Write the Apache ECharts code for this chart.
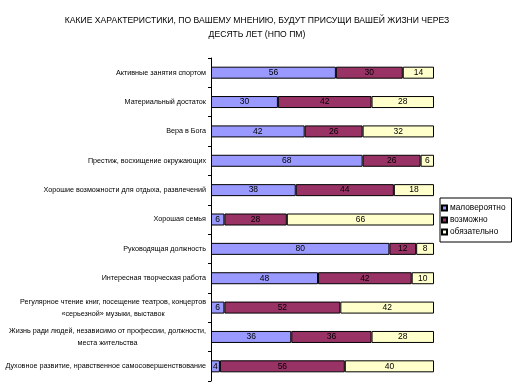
<!DOCTYPE html>
<html><head><meta charset="utf-8">
<script src="https://cdn.jsdelivr.net/npm/echarts@6/dist/echarts.min.js"></script>
<style>html,body{margin:0;padding:0;background:#fff}#c{width:514px;height:392px}</style>
</head><body><div id="c"></div>
<script>
const categories = [
  "Активные занятия спортом",
  "Материальный достаток",
  "Вера в Бога",
  "Престиж, восхищение окружающих",
  "Хорошие возможности для отдыха, развлечений",
  "Хорошая семья",
  "Руководящая должность",
  "Интересная творческая работа",
  "Регулярное чтение книг, посещение театров, концертов\n«серьезной» музыки, выставок",
  "Жизнь ради людей, независимо от профессии, должности,\nместа жительства",
  "Духовное развитие, нравственное самосовершенствование"
];
const seriesNames = ["маловероятно", "возможно", "обязательно"];
const unlikely = [56, 30, 42, 68, 38, 6, 80, 48, 6, 36, 4];
const possible = [30, 42, 26, 26, 44, 28, 12, 42, 52, 36, 56];
const certain  = [14, 28, 32, 6, 18, 66, 8, 10, 42, 28, 40];
const titleText = "КАКИЕ ХАРАКТЕРИСТИКИ, ПО ВАШЕМУ МНЕНИЮ, БУДУТ ПРИСУЩИ ВАШЕЙ ЖИЗНИ ЧЕРЕЗ\nДЕСЯТЬ ЛЕТ (НПО ПМ)";
const colors = ["#9999FF", "#993366", "#FFFFCC"];

const FONT = "'Liberation Sans', Arial, sans-serif";
const chart = echarts.init(document.getElementById('c'), null, {renderer: 'canvas'});
function mk(name, data, color) {
  return {
    name: name, type: 'bar', stack: 'a', data: data, barWidth: 12,
    itemStyle: {color: color, borderColor: '#000', borderWidth: 1},
    label: {show: true, position: 'inside', color: '#000', fontFamily: FONT, fontSize: 8.5},
    emphasis: {disabled: true}
  };
}
chart.setOption({
  animation: false,
  backgroundColor: '#fff',
  title: {
    text: titleText, left: 'center', top: 9,
    textStyle: {fontFamily: FONT, fontSize: 8.6, fontWeight: 'normal', color: '#000', lineHeight: 14}
  },
  legend: {
    orient: 'vertical', left: 440, top: 198,
    itemWidth: 5, itemHeight: 5, itemGap: 4, icon: 'rect',
    borderColor: '#000', borderWidth: 1, padding: [6, 6, 6, 1],
    textStyle: {fontFamily: FONT, fontSize: 8.3, color: '#000', padding: [0, 0, 0, -2]},
    data: seriesNames
  },
  grid: {left: 211, top: 58, width: 223, height: 323, containLabel: false, outerBoundsMode: 'none'},
  xAxis: {type: 'value', min: 0, max: 100, show: false},
  yAxis: {
    type: 'category', inverse: true, data: categories,
    axisLine: {show: true, lineStyle: {color: '#000', width: 1}},
    axisTick: {show: true, length: 3, lineStyle: {color: '#000'}},
    axisLabel: {
      color: '#000', fontFamily: FONT, fontSize: 7.2, margin: 5, lineHeight: 12,
      formatter: function (v) {
        if (v.indexOf('\n') >= 0) return v.split('\n').map(s => '{c|' + s + '}').join('\n');
        return v;
      },
      rich: {c: {align: 'center', fontFamily: FONT, fontSize: 7.2, color: '#000', lineHeight: 12}}
    }
  },
  series: [mk(seriesNames[0], unlikely, colors[0]), mk(seriesNames[1], possible, colors[1]), mk(seriesNames[2], certain, colors[2])]
});
</script></body></html>
